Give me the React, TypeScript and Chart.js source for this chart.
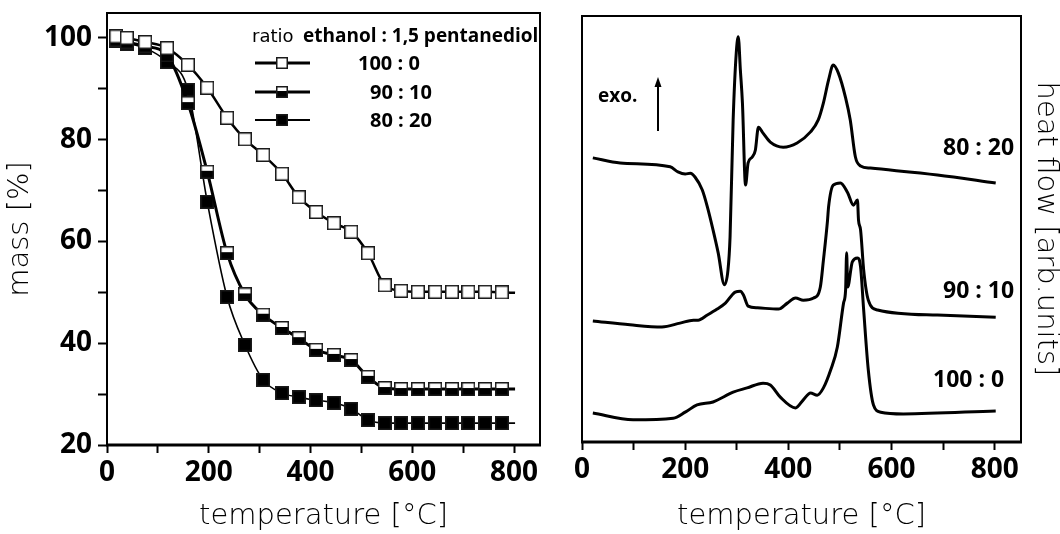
import React, { useEffect, useRef } from 'react';
import { Chart, registerables } from 'chart.js';

Chart.register(...registerables);

const BOLD = "'Open Sans', 'Noto Sans', sans-serif";
const LIGHT = "'DejaVu Sans', 'Open Sans', sans-serif";

// ---------- TGA (left panel) ----------
const tgaTemps = [18, 39, 75, 118, 159, 197, 236, 271, 307, 344, 377, 411, 446, 480, 513, 546, 578, 611, 645, 678, 710, 743, 776, 802];
const mass100_0 = [100.3, 100.0, 99.2, 98.0, 94.7, 90.2, 84.3, 80.1, 77.0, 73.3, 68.7, 65.8, 63.6, 61.9, 57.7, 51.4, 50.3, 50.1, 50.1, 50.1, 50.1, 50.1, 50.0, 49.9];
const mass90_10 = [99.6, 99.2, 98.4, 96.6, 87.2, 73.7, 57.7, 49.6, 45.6, 43.0, 41.0, 38.7, 37.7, 36.7, 33.4, 31.2, 31.0, 31.0, 31.0, 31.0, 31.0, 31.0, 31.0, 31.0];
const mass80_20 = [99.3, 98.9, 98.0, 95.3, 89.8, 67.8, 49.1, 39.7, 32.8, 30.2, 29.4, 28.8, 28.3, 27.1, 24.9, 24.3, 24.3, 24.3, 24.3, 24.3, 24.3, 24.3, 24.3, 24.3];
const tgaLabels = ['100 : 0', '90 : 10', '80 : 20'];
const tempTicks = [0, 100, 200, 300, 400, 500, 600, 700, 800];
const massTicks = [20, 30, 40, 50, 60, 70, 80, 90, 100];

// ---------- DSC (right panel) ----------
const dscT_80_20 = [21, 74, 171, 186, 200, 210, 219, 233, 243, 254, 264, 276, 283, 287, 293, 299, 303, 307, 311, 317, 322, 330, 336, 342, 351, 365, 390, 417, 443, 458, 468, 478, 487, 497, 511, 520, 530, 540, 559, 689, 802];
const dscH_80_20 = [66.7, 65.5, 64.6, 63.4, 62.9, 63.1, 62.2, 59.2, 55.2, 49.8, 44.4, 36.9, 40.4, 48.1, 75.6, 91.3, 95.1, 87.3, 79.6, 60.3, 65.5, 66.9, 68.5, 73.9, 72.5, 70.4, 69.2, 70.2, 72.8, 75.6, 79.6, 85.0, 88.5, 86.6, 80.8, 75.6, 66.9, 64.8, 64.3, 62.7, 60.8];
const dscT_90_10 = [21, 93, 155, 190, 216, 225, 243, 262, 278, 297, 307, 313, 322, 340, 381, 398, 414, 429, 449, 462, 468, 476, 478, 487, 501, 515, 526, 534, 536, 540, 546, 555, 573, 689, 802];
const dscH_90_10 = [28.4, 27.5, 27.0, 27.9, 28.6, 28.6, 29.8, 31.2, 32.6, 35.2, 35.4, 34.5, 31.9, 31.5, 31.2, 32.6, 33.8, 33.3, 33.8, 36.4, 42.7, 52.1, 55.2, 60.3, 60.8, 58.5, 55.6, 56.8, 52.1, 49.8, 40.4, 33.3, 31.0, 29.8, 29.3];
const dscT_100_0 = [21, 99, 177, 200, 223, 254, 293, 320, 351, 365, 384, 414, 429, 443, 456, 468, 482, 495, 507, 511, 513, 515, 524, 534, 540, 546, 555, 565, 579, 623, 802];
const dscH_100_0 = [6.8, 5.2, 5.6, 7.0, 8.7, 9.4, 11.7, 12.7, 13.8, 13.4, 10.6, 8.0, 9.9, 11.5, 11.0, 12.7, 16.9, 22.3, 32.6, 35.7, 44.4, 36.4, 42.3, 43.2, 41.1, 31.0, 16.9, 8.7, 7.0, 6.6, 7.3];

function makeMarker(kind: string, size: number) {
  const c = document.createElement('canvas');
  c.width = size;
  c.height = size;
  const ctx = c.getContext('2d')!;
  ctx.fillStyle = '#fff';
  ctx.fillRect(0, 0, size, size);
  ctx.fillStyle = '#000';
  if (kind === 'filled') ctx.fillRect(0, 0, size, size);
  if (kind === 'half') ctx.fillRect(0, Math.round(size * 0.45), size, size);
  ctx.strokeStyle = '#1a1a1a';
  ctx.lineWidth = 1.5;
  ctx.strokeRect(0.75, 0.75, size - 1.5, size - 1.5);
  return c;
}

const tickFont = { family: BOLD, size: 28, weight: 'bold' as const };
const titleFont = { family: LIGHT, size: 29, weight: 200 as any };

function xAxis(height: number) {
  return {
    type: 'linear' as const,
    min: 0,
    max: 851,
    afterBuildTicks: (s: any) => {
      s.ticks = tempTicks.map((v) => ({ value: v }));
    },
    afterFit: (s: any) => {
      s.height = height;
      s.paddingLeft = 0;
      s.paddingRight = 0;
    },
    ticks: {
      callback: (v: any) => (Number(v) % 200 === 0 ? String(v) : ''),
      font: tickFont,
      color: '#000',
      padding: 3,
      maxRotation: 0,
      autoSkip: false,
    },
    grid: { display: true, drawOnChartArea: false, drawTicks: true, tickLength: 8, tickWidth: 2, tickColor: '#000' },
    border: { display: false },
    title: { display: true, text: 'temperature [°C]', font: titleFont, color: '#000', padding: { top: 0, bottom: 0 } },
  };
}

const framePlugin = {
  id: 'frame',
  afterDatasetsDraw(chart: any) {
    const { ctx, chartArea: a } = chart;
    ctx.save();
    ctx.strokeStyle = '#000';
    ctx.lineWidth = 2;
    ctx.strokeRect(a.left, a.top, a.right - a.left, a.bottom - a.top);
    ctx.lineWidth = 3;
    ctx.beginPath();
    ctx.moveTo(a.left - 1, a.bottom);
    ctx.lineTo(a.right + 1, a.bottom);
    ctx.stroke();
    ctx.restore();
  },
};

export default function App() {
  const leftRef = useRef<HTMLCanvasElement>(null);
  const rightRef = useRef<HTMLCanvasElement>(null);

  useEffect(() => {
    const mOpen = makeMarker('open', 14);
    const mHalf = makeMarker('half', 14);
    const mFill = makeMarker('filled', 14);
    const markers = [mOpen, mHalf, mFill];
    const lMarkers = [makeMarker('open', 12), makeMarker('half', 12), makeMarker('filled', 12)];
    const widths = [2.5, 3, 1.6];
    const series = [mass100_0, mass90_10, mass80_20];
    const lastIdx = tgaTemps.length - 1;

    const legendPlugin = {
      id: 'tgaLegend',
      afterDraw(chart: any) {
        const ctx = chart.ctx;
        ctx.save();
        ctx.fillStyle = '#000';
        ctx.textBaseline = 'middle';
        ctx.font = `18px ${LIGHT}`;
        ctx.fillText('ratio', 252, 37);
        ctx.font = `bold 19px ${BOLD}`;
        ctx.fillText('ethanol : 1,5 pentanediol', 303, 37);
        const rowsY = [63, 92, 120];
        const textX = [358, 370, 370];
        rowsY.forEach((y, i) => {
          ctx.strokeStyle = '#000';
          ctx.lineWidth = i === 2 ? 2 : 3;
          ctx.beginPath();
          ctx.moveTo(255, y);
          ctx.lineTo(310, y);
          ctx.stroke();
          ctx.drawImage(lMarkers[i], 282 - 6, y - 6);
          ctx.font = `bold 20px ${BOLD}`;
          ctx.fillText(tgaLabels[i], textX[i], y + 1);
        });
        ctx.restore();
      },
    };

    const left = new Chart(leftRef.current!, {
      type: 'line',
      data: {
        datasets: series.map((s, i) => ({
          label: tgaLabels[i],
          data: tgaTemps.map((t, j) => ({ x: t, y: s[j] })),
          borderColor: '#000',
          borderWidth: widths[i],
          cubicInterpolationMode: 'monotone' as const,
          pointStyle: markers[i] as any,
          pointRadius: tgaTemps.map((_, j) => (j === lastIdx ? 0 : 7)),
          pointHoverRadius: 7,
        })),
      },
      options: {
        animation: false,
        responsive: false,
        maintainAspectRatio: false,
        layout: { padding: { top: 13, right: 20, left: 0, bottom: 0 } },
        plugins: { legend: { display: false }, tooltip: { enabled: false } },
        scales: {
          x: xAxis(89) as any,
          y: {
            type: 'linear',
            min: 20,
            max: 104.9,
            afterBuildTicks: (s: any) => {
              s.ticks = massTicks.map((v) => ({ value: v }));
            },
            afterFit: (s: any) => {
              s.width = 107;
              s.paddingTop = 0;
              s.paddingBottom = 0;
            },
            ticks: {
              callback: (v: any) => (Number(v) % 20 === 0 ? String(v) : ''),
              font: tickFont,
              color: '#000',
              padding: 6,
            },
            grid: { display: true, drawOnChartArea: false, drawTicks: true, tickLength: 9, tickWidth: 2, tickColor: '#000' },
            border: { display: false },
            title: { display: true, text: 'mass [%]', font: titleFont, color: '#000', padding: { top: 3, bottom: 0 } },
          },
        },
      },
      plugins: [framePlugin, legendPlugin],
    });

    const annPlugin = {
      id: 'dscAnn',
      afterDraw(chart: any) {
        const ctx = chart.ctx;
        const ox = 560;
        ctx.save();
        ctx.fillStyle = '#000';
        ctx.strokeStyle = '#000';
        ctx.textBaseline = 'middle';
        ctx.font = `bold 19px ${BOLD}`;
        ctx.fillText('exo.', 598 - ox, 97);
        ctx.lineWidth = 2;
        ctx.beginPath();
        ctx.moveTo(658 - ox, 131);
        ctx.lineTo(658 - ox, 84);
        ctx.stroke();
        ctx.beginPath();
        ctx.moveTo(658 - ox, 77);
        ctx.lineTo(654.5 - ox, 87);
        ctx.lineTo(661.5 - ox, 87);
        ctx.closePath();
        ctx.fill();
        ctx.font = `bold 23px ${BOLD}`;
        ctx.fillText('80 : 20', 943 - ox, 148);
        ctx.fillText('90 : 10', 943 - ox, 291);
        ctx.fillText('100 : 0', 933 - ox, 380);
        ctx.restore();
      },
    };

    const dsc = [
      [dscT_80_20, dscH_80_20],
      [dscT_90_10, dscH_90_10],
      [dscT_100_0, dscH_100_0],
    ];

    const right = new Chart(rightRef.current!, {
      type: 'line',
      data: {
        datasets: dsc.map(([ts, hs], i) => ({
          label: tgaLabels[2 - i],
          data: ts.map((t, j) => ({ x: t, y: hs[j] })),
          borderColor: '#000',
          borderWidth: 3,
          cubicInterpolationMode: 'monotone' as const,
          pointRadius: 0,
        })),
      },
      options: {
        animation: false,
        responsive: false,
        maintainAspectRatio: false,
        layout: { padding: { top: 16, left: 22, right: 0, bottom: 0 } },
        plugins: { legend: { display: false }, tooltip: { enabled: false } },
        scales: {
          x: xAxis(92) as any,
          y: {
            type: 'linear',
            position: 'right',
            min: 0,
            max: 100,
            afterFit: (s: any) => {
              s.width = 39;
              s.paddingTop = 0;
              s.paddingBottom = 0;
            },
            ticks: { display: false },
            grid: { display: false },
            border: { display: false },
            title: { display: true, text: 'heat flow [arb.units]', font: { ...titleFont, lineHeight: 1 }, color: '#000', padding: 0 },
          },
        },
      },
      plugins: [framePlugin, annPlugin],
    });

    return () => {
      left.destroy();
      right.destroy();
    };
  }, []);

  return (
    <div style={{ position: 'fixed', left: 0, top: 0, width: 1060, height: 534, background: '#fff' }}>
      <canvas ref={leftRef} width={560} height={534} style={{ position: 'absolute', left: 0, top: 0, width: 560, height: 534 }} />
      <canvas ref={rightRef} width={500} height={534} style={{ position: 'absolute', left: 560, top: 0, width: 500, height: 534 }} />
    </div>
  );
}
